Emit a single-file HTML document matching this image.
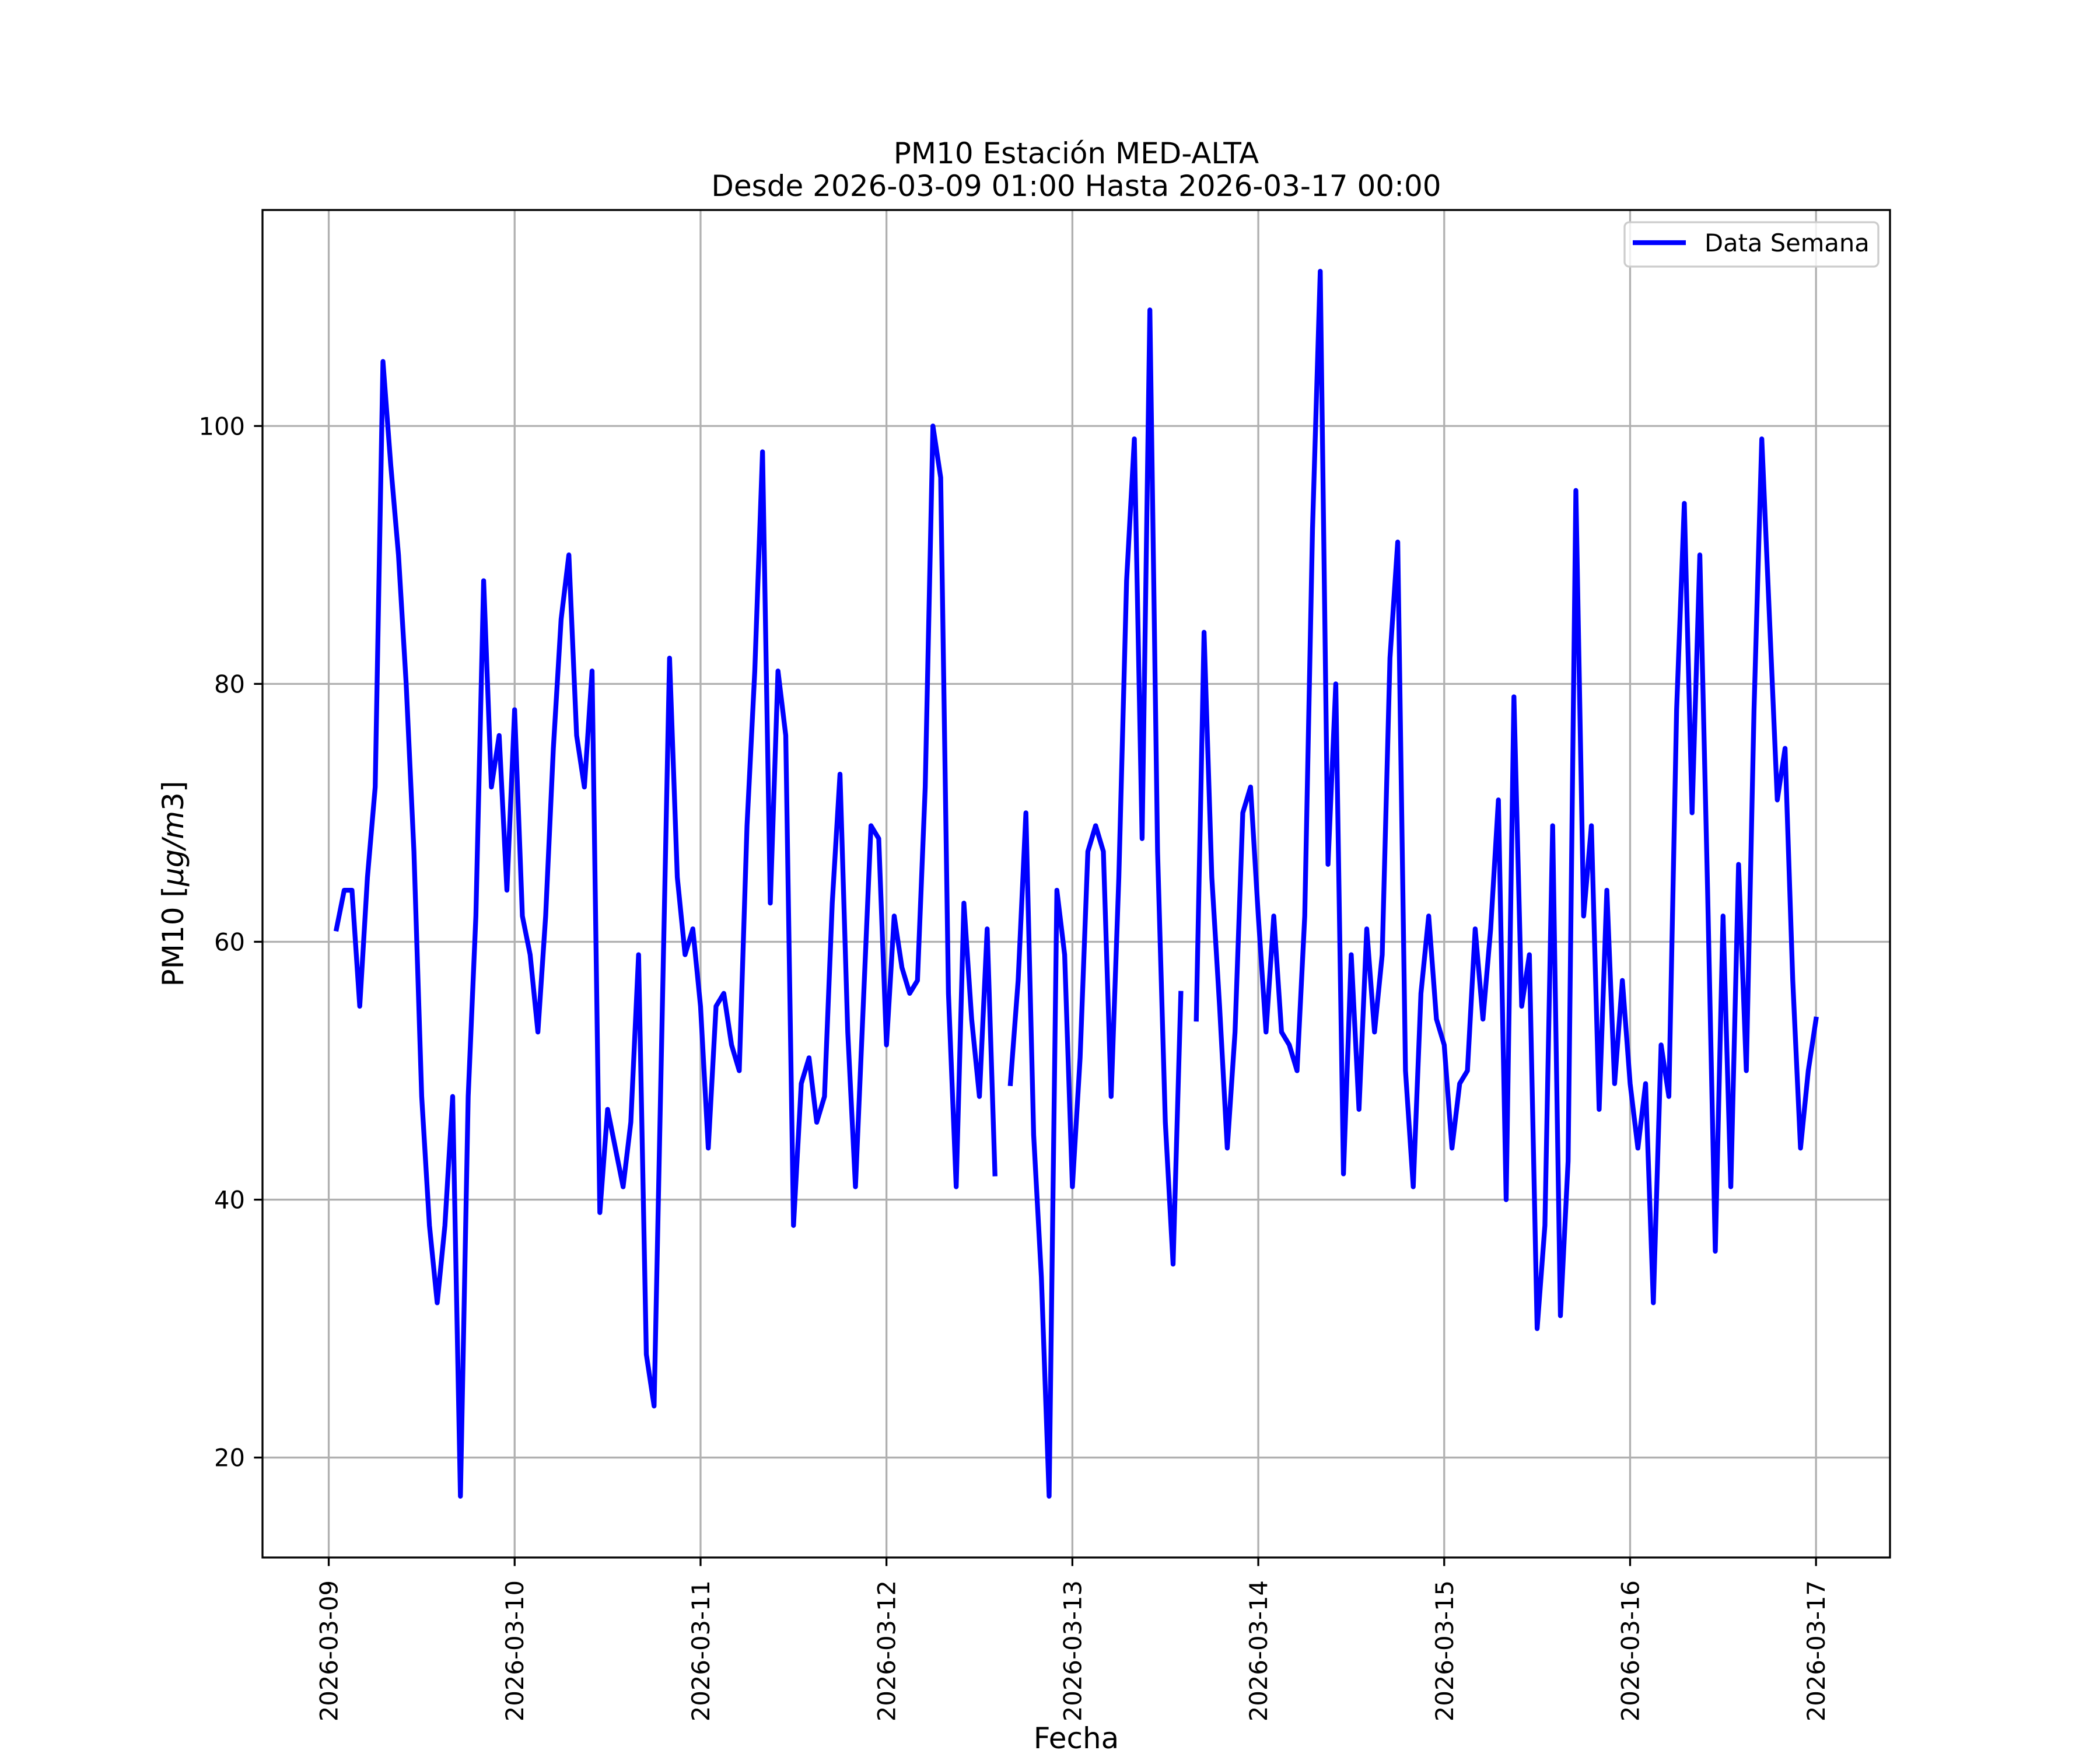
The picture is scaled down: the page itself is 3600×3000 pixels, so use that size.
<!DOCTYPE html>
<html><head><meta charset="utf-8"><style>
html,body{margin:0;padding:0;background:#fff;}
svg{display:block;}
text{font-family:"DejaVu Sans","Liberation Sans",sans-serif;fill:#000;}
</style></head><body>
<svg id="chart" width="3600" height="3000" viewBox="0 0 3600 3000" xmlns="http://www.w3.org/2000/svg">
<rect x="0" y="0" width="3600" height="3000" fill="#fff"/>
<g id="grid"></g>
<g id="series"></g>
<rect x="450" y="360" width="2790" height="2310" fill="none" stroke="#000" stroke-width="3.3"/>
<g id="xticks"></g>
<g id="yticks"></g>
<text x="1845" y="280" font-size="50" text-anchor="middle">PM10 Estación MED-ALTA</text>
<text x="1845" y="336" font-size="50" text-anchor="middle">Desde 2026-03-09 01:00 Hasta 2026-03-17 00:00</text>
<text x="1845" y="2997" font-size="50" text-anchor="middle">Fecha</text>
<text transform="translate(314,1515) rotate(-90)" font-size="50" text-anchor="middle">PM10 [<tspan font-style="italic">μg/m</tspan>3]</text>
<g>
<rect x="2785" y="381" width="435" height="76" rx="8" fill="#fff" fill-opacity="0.8" stroke="#cccccc" stroke-width="3.3"/>
<line x1="2799" y1="416" x2="2890" y2="416" stroke="#0000ff" stroke-width="8.3"/>
<text x="2922" y="431" font-size="41.67">Data Semana</text>
</g>
</svg>
<script>
const values = [61,64,64,55,65,72,105,97,90,80,
67,48,38,32,38,48,17,48,62,88,
72,76,64,78,62,59,53,62,75,85,
90,76,72,81,39,47,44,41,46,59,
28,24,53,82,65,59,61,55,44,55,
56,52,50,69,81,98,63,81,76,38,
49,51,46,48,63,73,53,41,55,69,
68,52,62,58,56,57,72,100,96,56,
41,63,54,48,61,42,null,49,57,70,
45,34,17,64,59,41,51,67,69,67,
48,65,88,99,68,109,67,46,35,56,
null,54,84,65,55,44,53,70,72,62,
53,62,53,52,50,62,92,112,66,80,
42,59,47,61,53,59,82,91,50,41,
56,62,54,52,44,49,50,61,54,61,
71,40,79,55,59,30,38,69,31,43,
95,62,69,47,64,49,57,49,44,49,
32,52,48,78,94,70,90,64,36,62,
41,66,50,78,99,85,71,75,57,44,
50,54];
const startHour = 1;
const xTickLabels = ["2026-03-09","2026-03-10","2026-03-11","2026-03-12","2026-03-13","2026-03-14","2026-03-15","2026-03-16","2026-03-17"];
const yTickValues = [20,40,60,80,100];

const NS = "http://www.w3.org/2000/svg";
const L=450,R=3240,T=360,B=2670;
const hMin = startHour - 0.05*(values.length-1), hMax = startHour+values.length-1 + 0.05*(values.length-1);
const nums = values.filter(v=>v!==null);
const vmin=Math.min(...nums), vmax=Math.max(...nums), pad=0.05*(vmax-vmin);
const yMin=vmin-pad, yMax=vmax+pad;
function xs(h){return L+(h-hMin)/(hMax-hMin)*(R-L);}
function ys(v){return B-(v-yMin)/(yMax-yMin)*(B-T);}
function mk(tag,attrs,parent){const e=document.createElementNS(NS,tag);for(const k in attrs)e.setAttribute(k,attrs[k]);parent.appendChild(e);return e;}
const grid=document.getElementById('grid'), xt=document.getElementById('xticks'), yt=document.getElementById('yticks'), ser=document.getElementById('series');
xTickLabels.forEach((lab,i)=>{
  const x=xs(i*24);
  const g=mk('line',{x1:x,y1:T,x2:x,y2:B,stroke:'#b0b0b0','stroke-width':3.3},grid);
  
  
  const t=mk('line',{x1:x,y1:B,x2:x,y2:B+14.6,stroke:'#000','stroke-width':3.3},xt);
  
  
  const tx=mk('text',{transform:`translate(${x+15},2709) rotate(-90)`,'font-size':41.67,'text-anchor':'end'},xt);
  tx.textContent=lab;
  
  
});
yTickValues.forEach(v=>{
  const y=ys(v);
  const g=mk('line',{x1:L,y1:y,x2:R,y2:y,stroke:'#b0b0b0','stroke-width':3.3},grid);
  
  
  const t=mk('line',{x1:L-14.6,y1:y,x2:L,y2:y,stroke:'#000','stroke-width':3.3},yt);
  
  
  const tx=mk('text',{x:420,y:y+15,'font-size':41.67,'text-anchor':'end'},yt);
  tx.textContent=String(v);
  
  
});
let d='', pen=false;
values.forEach((v,i)=>{
  if(v===null){pen=false;return;}
  const x=xs(startHour+i).toFixed(1), y=ys(v).toFixed(1);
  d+=(pen?'L':'M')+x+' '+y+' '; pen=true;
});
const p=mk('path',{d:d,fill:'none',stroke:'#0000ff','stroke-width':8.3,'stroke-linejoin':'round','stroke-linecap':'square'},ser);


</script>
</body></html>
